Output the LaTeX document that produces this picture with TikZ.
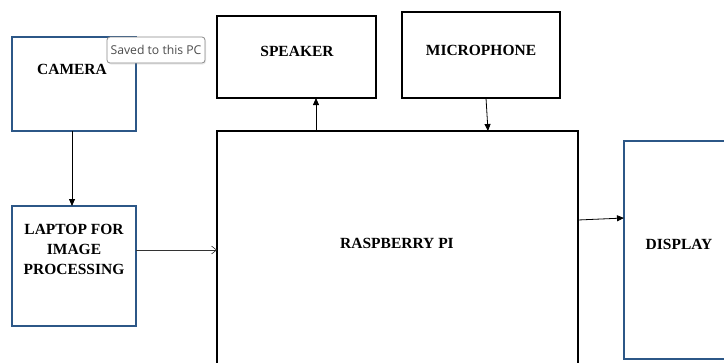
\documentclass[tikz,border=0pt]{standalone}
\usepackage{fontspec}
\setmainfont{Liberation Serif}
\newfontfamily\tipfont{Open Sans}
\usetikzlibrary{arrows.meta,shadows}
\definecolor{boxblue}{HTML}{2C5787}
\definecolor{tipgray}{HTML}{8A8A8A}
\begin{document}
\begin{tikzpicture}[x=1pt,y=-1pt,
  bluebox/.style={draw=boxblue,line width=2.8pt,fill=white},
  blackbox/.style={draw=black,line width=2.2pt,fill=white},
  lbl/.style={font=\fontsize{15.5}{20}\selectfont\bfseries,align=center,inner sep=0pt},
  conn/.style={line width=0.8pt,-{Triangle[length=7pt,width=6pt]}},
  openconn/.style={line width=0.6pt,draw=black!80,-{Straight Barb[length=5pt,width=8pt]}}]
\useasboundingbox (0,0) rectangle (724,362);
\clip (0,0) rectangle (724,362);
\fill[white] (0,0) rectangle (724,362);
% boxes
\draw[bluebox] (12,37) rectangle (136,131);
\coordinate (camS) at (72,131);
\draw[bluebox] (12,206) rectangle (136,326);
\coordinate (lapN) at (72,206);
\coordinate (lapE) at (136,250);
\draw[blackbox] (217,131) rectangle (578,380);
\coordinate (rpiW) at (217,250);
\coordinate (rpiNs) at (316,131);
\coordinate (rpiNm) at (488,131);
\coordinate (rpiE) at (578,220);
\draw[blackbox] (217,16) rectangle (376,98);
\coordinate (spkS) at (316,98);
\draw[blackbox] (402,12) rectangle (560,98);
\coordinate (micS) at (486,98);
\draw[bluebox] (624,141) rectangle (740,359);
\coordinate (dispW) at (624,218);
% labels
\node[lbl] (camt) at (72,69) {CAMERA};
\node[lbl] (lapt) at (74,249) {LAPTOP FOR\\IMAGE\\PROCESSING};
\node[lbl] (rpit) at (397,243) {RASPBERRY PI};
\node[lbl] (spkt) at (297,51) {SPEAKER};
\node[lbl] (mict) at (481,50) {MICROPHONE};
\node[lbl] (dispt) at (679,244) {DISPLAY};
% connectors
\draw[conn] (camS) -- (lapN);
\draw[openconn] (lapE) -- (rpiW);
\draw[conn] (rpiNs) -- (spkS);
\draw[conn] (micS) -- (rpiNm);
\draw[conn] (rpiE) -- (dispW);
% tooltip
\node[draw=tipgray,line width=0.8pt,rounded corners=3pt,fill=white,
  drop shadow={opacity=0.15,shadow xshift=1pt,shadow yshift=-1.5pt},
  minimum width=98pt,minimum height=26pt,inner sep=0pt,
  font=\tipfont\fontsize{12.2}{14}\selectfont,text=black!70] (tip) at (156,50) {Saved to this PC};
\end{tikzpicture}
\end{document}
